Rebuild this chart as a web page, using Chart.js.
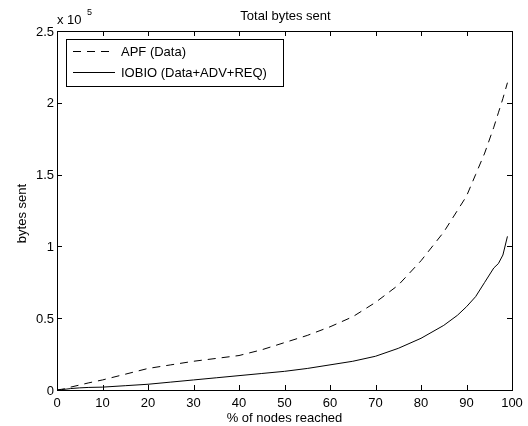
<!DOCTYPE html>
<html>
<head>
<meta charset="utf-8">
<script src="https://cdn.jsdelivr.net/npm/chart.js@4/dist/chart.umd.min.js"></script>
<style>
  html, body { margin: 0; padding: 0; background: #fff; }
  #wrap { width: 528px; height: 426px; position: relative; }
</style>
</head>
<body>
<div id="wrap"><canvas id="chart" width="528" height="426"></canvas></div>
<script>
// Datos (y en unidades de 10^5 bytes)
const nodesReached = [0, 1, 2, 3, 5, 7, 10, 15, 20, 25, 30, 35, 40, 45, 50, 55, 60, 65, 70, 75, 80, 85, 88, 90, 92, 94, 96, 97, 98, 99];
const apfBytes = [0, 0.005, 0.01, 0.02, 0.035, 0.05, 0.07, 0.11, 0.15, 0.175, 0.2, 0.22, 0.24, 0.28, 0.33, 0.38, 0.44, 0.51, 0.61, 0.73, 0.9, 1.1, 1.25, 1.35, 1.5, 1.65, 1.83, 1.93, 2.03, 2.14];
const iobioBytes = [0, 0.003, 0.006, 0.01, 0.015, 0.018, 0.02, 0.03, 0.04, 0.055, 0.07, 0.085, 0.1, 0.115, 0.13, 0.15, 0.175, 0.2, 0.235, 0.29, 0.36, 0.45, 0.52, 0.58, 0.65, 0.75, 0.85, 0.88, 0.94, 1.07];
const xTicks = [0, 10, 20, 30, 40, 50, 60, 70, 80, 90, 100];
const yTicks = [0, 0.5, 1, 1.5, 2, 2.5];
const seriesNames = ['APF (Data)', 'IOBIO (Data+ADV+REQ)'];

const FONT = '13px "Liberation Sans", Arial, sans-serif';

function toPoints(ys) {
    return nodesReached.map((x, i) => ({ x: x, y: ys[i] }));
}

// Plugin para dibujar el estilo MATLAB (marco, ticks hacia dentro, textos, leyenda)
const matlabStyle = {
    id: 'matlabStyle',
    afterDraw(chart) {
        const ctx = chart.ctx;
        const area = chart.chartArea;
        const xs = chart.scales.x;
        const ys = chart.scales.y;
        ctx.save();
        ctx.strokeStyle = '#000';
        ctx.lineWidth = 1;
        ctx.setLineDash([]);

        // marco
        ctx.strokeRect(Math.round(area.left) + 0.5, Math.round(area.top) + 0.5,
            Math.round(area.right - area.left), Math.round(area.bottom - area.top));

        // ticks hacia dentro
        ctx.beginPath();
        xTicks.forEach(v => {
            const px = Math.round(xs.getPixelForValue(v)) + 0.5;
            ctx.moveTo(px, area.bottom); ctx.lineTo(px, area.bottom - 5);
            ctx.moveTo(px, area.top); ctx.lineTo(px, area.top + 5);
        });
        yTicks.forEach(v => {
            const py = Math.round(ys.getPixelForValue(v)) + 0.5;
            ctx.moveTo(area.left, py); ctx.lineTo(area.left + 5, py);
            ctx.moveTo(area.right, py); ctx.lineTo(area.right - 5, py);
        });
        ctx.stroke();

        // etiquetas de ticks
        ctx.fillStyle = '#000';
        ctx.font = FONT;
        ctx.textAlign = 'center';
        ctx.textBaseline = 'alphabetic';
        xTicks.forEach(v => ctx.fillText(String(v), xs.getPixelForValue(v), 407));
        ctx.textAlign = 'right';
        ctx.textBaseline = 'middle';
        yTicks.forEach(v => ctx.fillText(String(v), area.left - 3, ys.getPixelForValue(v) + 1));

        // multiplicador
        ctx.textAlign = 'left';
        ctx.textBaseline = 'alphabetic';
        ctx.fillText('x 10', area.left, 24);
        ctx.font = '9px "Liberation Sans", Arial, sans-serif';
        ctx.fillText('5', area.left + 30, 15);

        // título y ejes
        ctx.font = FONT;
        ctx.textAlign = 'center';
        ctx.fillText('Total bytes sent', (area.left + area.right) / 2 + 1, 20);
        ctx.fillText('% of nodes reached', (area.left + area.right) / 2, 422);
        ctx.save();
        ctx.translate(26, (area.top + area.bottom) / 2 + 3);
        ctx.rotate(-Math.PI / 2);
        ctx.fillText('bytes sent', 0, 0);
        ctx.restore();

        // leyenda
        const lx = area.left + 9, ly = area.top + 8, lw = 217, lh = 47;
        ctx.fillStyle = '#fff';
        ctx.fillRect(lx, ly, lw, lh);
        ctx.strokeRect(lx + 0.5, ly + 0.5, lw, lh);
        chart.data.datasets.forEach((ds, i) => {
            const yy = ly + 12 + i * 21 + 0.5;
            ctx.strokeStyle = ds.borderColor;
            ctx.setLineDash(ds.borderDash || []);
            ctx.beginPath();
            ctx.moveTo(lx + 7, yy);
            ctx.lineTo(lx + 49, yy);
            ctx.stroke();
            ctx.setLineDash([]);
            ctx.fillStyle = '#000';
            ctx.textAlign = 'left';
            ctx.textBaseline = 'middle';
            ctx.fillText(ds.label, lx + 55, yy + 1);
        });
        ctx.restore();
    }
};

new Chart(document.getElementById('chart'), {
    type: 'line',
    data: {
        datasets: [{
            label: seriesNames[0],
            data: toPoints(apfBytes),
            borderColor: '#000',
            borderWidth: 1,
            borderDash: [8, 6],
            pointRadius: 0,
            fill: false,
            tension: 0
        }, {
            label: seriesNames[1],
            data: toPoints(iobioBytes),
            borderColor: '#000',
            borderWidth: 1,
            pointRadius: 0,
            fill: false,
            tension: 0
        }]
    },
    options: {
        responsive: false,
        animation: false,
        layout: { padding: { left: 0, right: 16, top: 31, bottom: 0 } },
        plugins: {
            legend: { display: false },
            title: { display: false },
            tooltip: { enabled: false }
        },
        scales: {
            x: {
                type: 'linear',
                min: 0,
                max: 100,
                grid: { display: false },
                border: { display: false },
                ticks: { display: false },
                afterFit: s => { s.height = 36; }
            },
            y: {
                type: 'linear',
                min: 0,
                max: 2.5,
                grid: { display: false },
                border: { display: false },
                ticks: { display: false },
                afterFit: s => { s.width = 57; }
            }
        }
    },
    plugins: [matlabStyle]
});
</script>
</body>
</html>
